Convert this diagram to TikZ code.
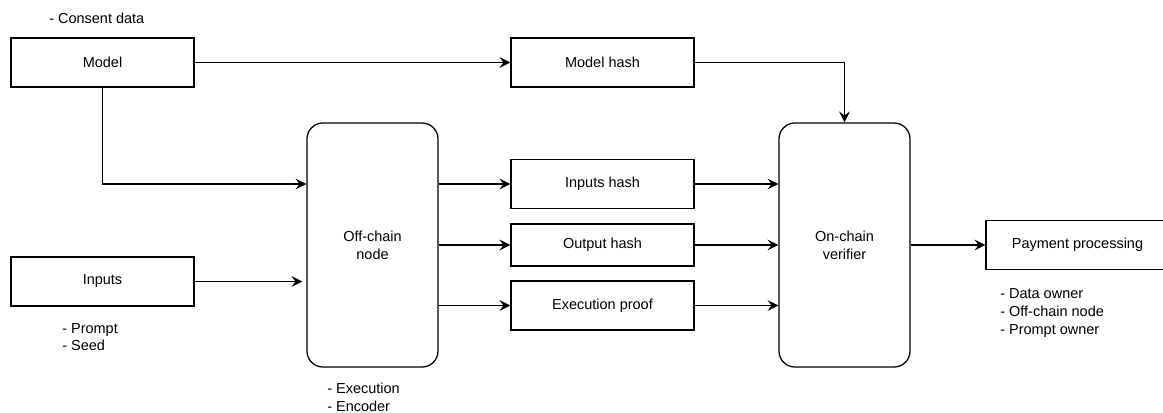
\documentclass[tikz,border=0pt]{standalone}
\usepackage{fontspec}
\setmainfont{Liberation Sans}
\usetikzlibrary{arrows.meta}

\tikzset{
  box/.style={draw, line width=0.9pt, minimum width=4.575cm, minimum height=1.225cm, inner sep=0pt},
  chain/.style={draw, line width=0.9pt, rounded corners=0.4cm, minimum width=3.275cm, minimum height=6.1cm, align=center, inner sep=0pt},
  notes/.style={align=left, inner sep=0pt, anchor=west},
  arr/.style={line width=0.9pt, -{Stealth[length=2.7mm, width=2.7mm, inset=1mm]}}
}

\begin{document}
\begin{tikzpicture}[x=0.025cm, y=-0.025cm, font=\fontsize{10.3}{12.6}\selectfont]
\useasboundingbox (0,0) rectangle (1163,413);

\node[box] (model) at (102.5,62.5) {Model};
\node[notes] (consent) at (49,18) {- Consent data};
\node[box] (inputs) at (102.5,281.5) {Inputs};
\node[notes] (prompt) at (62,337) {- Prompt\\- Seed};

\node[chain] (offchain) at (372.5,245) {Off-chain\\node};
\node[notes] (exec) at (327,397) {- Execution\\- Encoder};

\node[box] (mhash) at (602.5,62.5) {Model hash};
\node[box] (ihash) at (602.5,184) {Inputs hash};
\node[box, minimum height=1.05cm] (ohash) at (602.5,245) {Output hash};
\node[box] (proof) at (602.5,305.5) {Execution proof};

\node[chain] (onchain) at (844.5,245) {On-chain\\verifier};
\node[box] (pay) at (1077.5,245) {Payment processing};
\node[notes] (owners) at (1000,313) {- Data owner\\- Off-chain node\\- Prompt owner};

% model goes to the hash and to the node
\draw[arr] (model) -- (mhash);
\draw[arr] (model.south) |- (offchain.west |- ihash);
\draw[arr] (inputs) -- ([xshift=-0.1cm]offchain.west |- inputs);

% off-chain results
\draw[arr] (offchain.east |- ihash) -- (ihash);
\draw[arr] (offchain.east |- ohash) -- (ohash);
\draw[arr] (offchain.east |- proof) -- (proof);

% into the verifier
\draw[arr] (mhash.east) -| (onchain.north);
\draw[arr] (ihash) -- (onchain.west |- ihash);
\draw[arr] (ohash) -- (onchain.west |- ohash);
\draw[arr] (proof) -- (onchain.west |- proof);

\draw[arr] (onchain) -- (pay);

\end{tikzpicture}
\end{document}
